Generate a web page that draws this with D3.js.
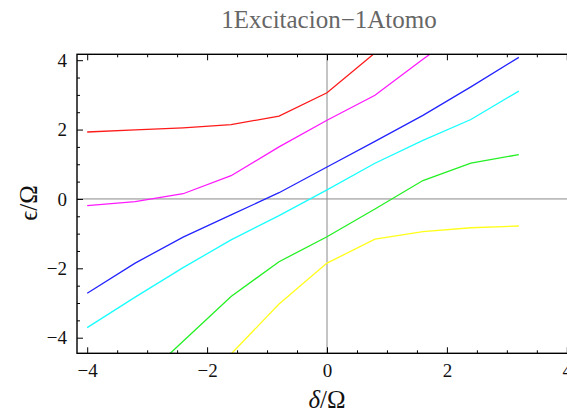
<!DOCTYPE html>
<html><head><meta charset="utf-8">
<script src="https://cdn.jsdelivr.net/npm/d3@7"></script>
<style>body{margin:0;background:#fff;}svg{display:block;}</style>
</head><body>
<svg id="c" width="567" height="412"></svg>
<script>
const xs = [-4, -3.2, -2.4, -1.6, -0.8, 0, 0.8, 1.6, 2.4, 3.2];
const red     = [1.93, 1.99, 2.05, 2.14, 2.39, 3.06, 4.21, 5.0, 5.8, 6.6];
const magenta = [-0.19, -0.08, 0.15, 0.67, 1.5, 2.27, 2.99, 4.03, 5.0, 5.8];
const blue    = [-2.72, -1.85, -1.10, -0.46, 0.18, 0.92, 1.66, 2.41, 3.23, 4.08];
const cyan    = [-3.71, -2.83, -1.98, -1.18, -0.48, 0.26, 1.03, 1.69, 2.29, 3.11];
const green   = [-6.6, -5.4, -4.1, -2.81, -1.81, -1.09, -0.29, 0.53, 1.03, 1.28];
const yellow  = [-7.1, -6.3, -5.4, -4.47, -3.03, -1.85, -1.16, -0.94, -0.83, -0.78];
const seriesNames = ["red", "magenta", "blue", "cyan", "green", "yellow"];
const seriesValues = [red, magenta, blue, cyan, green, yellow];
const seriesColors = ["#ff1a1a", "#ff1aff", "#2424ff", "#1affff", "#24f024", "#ffff1a"];
const xTickValues = [-4, -2, 0, 2, 4];
const yTickValues = [-4, -2, 0, 2, 4];
const title = "1Excitacion\u22121Atomo";

const svg = d3.select("#c");
const L = 77, R = 577, T = 54.3, B = 353.3;
const x = d3.scaleLinear().domain([-4.17, 4.17]).range([L, R]);
const y = d3.scaleLinear().domain([-4.45, 4.17]).range([B, T]);

svg.append("defs").append("clipPath").attr("id", "clip")
  .append("rect").attr("x", L).attr("y", T).attr("width", R - L).attr("height", B - T);

const g = svg.append("g").attr("clip-path", "url(#clip)");
g.append("line").attr("x1", x(0)).attr("x2", x(0)).attr("y1", T).attr("y2", B)
  .attr("stroke", "#8a8a8a").attr("stroke-width", 1);
g.append("line").attr("x1", L).attr("x2", R).attr("y1", y(0)).attr("y2", y(0))
  .attr("stroke", "#8a8a8a").attr("stroke-width", 1);

const line = d3.line().x((d, i) => x(xs[i])).y(d => y(d));
seriesValues.forEach((vals, k) => {
  g.append("path").datum(vals).attr("d", line)
    .attr("fill", "none").attr("stroke", seriesColors[k]).attr("stroke-width", 1.3)
    .attr("class", "series-" + seriesNames[k]);
});

svg.append("rect").attr("x", L).attr("y", T).attr("width", R - L).attr("height", B - T)
  .attr("fill", "none").attr("stroke", "#000").attr("stroke-width", 1.4);

const minorX = d3.range(-4, 4.01, 0.5).filter(v => !xTickValues.includes(v));
const minorY = d3.range(-4, 4.01, 0.5).filter(v => !yTickValues.includes(v));
const font = "'Liberation Serif','Times New Roman',serif";

const axB = svg.append("g").attr("transform", `translate(0,${B})`)
  .call(d3.axisBottom(x).tickValues(xTickValues).tickSizeInner(-6).tickSizeOuter(0).tickPadding(10)
    .tickFormat(d => d < 0 ? "\u2212" + Math.abs(d) : d));
axB.select(".domain").remove();
axB.selectAll("text").attr("font-family", font).attr("font-size", 19).attr("fill", "#111");
svg.append("g").attr("transform", `translate(0,${B})`)
  .call(d3.axisBottom(x).tickValues(minorX).tickSizeInner(-3).tickSizeOuter(0).tickFormat(""))
  .select(".domain").remove();
const axT = svg.append("g").attr("transform", `translate(0,${T})`)
  .call(d3.axisTop(x).tickValues(xTickValues).tickSizeInner(-6).tickSizeOuter(0).tickFormat(""));
axT.select(".domain").remove();
svg.append("g").attr("transform", `translate(0,${T})`)
  .call(d3.axisTop(x).tickValues(minorX).tickSizeInner(-3).tickSizeOuter(0).tickFormat(""))
  .select(".domain").remove();
const axL = svg.append("g").attr("transform", `translate(${L},0)`)
  .call(d3.axisLeft(y).tickValues(yTickValues).tickSizeInner(-6).tickSizeOuter(0).tickPadding(10)
    .tickFormat(d => d < 0 ? "\u2212" + Math.abs(d) : d));
axL.select(".domain").remove();
axL.selectAll("text").attr("font-family", font).attr("font-size", 19).attr("fill", "#111");
svg.append("g").attr("transform", `translate(${L},0)`)
  .call(d3.axisLeft(y).tickValues(minorY).tickSizeInner(-3).tickSizeOuter(0).tickFormat(""))
  .select(".domain").remove();

svg.append("text").attr("x", 329).attr("y", 28).attr("text-anchor", "middle")
  .attr("font-family", font).attr("font-size", 25).attr("fill", "#666").text(title);

const xl = svg.append("text").attr("x", 327).attr("y", 408).attr("text-anchor", "middle")
  .attr("font-family", font).attr("font-size", 25).attr("fill", "#111");
xl.append("tspan").attr("font-style", "italic").text("\u03b4");
xl.append("tspan").text("/\u03a9");
const yl = svg.append("text").attr("transform", "translate(37,203) rotate(-90)").attr("text-anchor", "middle")
  .attr("font-family", font).attr("font-size", 25).attr("fill", "#111");
yl.append("tspan").text("\u03f5/\u03a9");
</script>
</body></html>
